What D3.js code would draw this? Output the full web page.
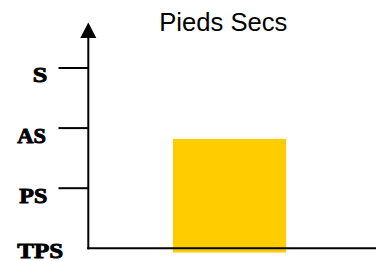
<!DOCTYPE html>
<html>
<head>
<meta charset="utf-8">
<script src="https://cdn.jsdelivr.net/npm/d3@7"></script>
<style>
  html, body { margin: 0; padding: 0; background: #fff; }
  svg { display: block; }
</style>
</head>
<body>
<div id="chart"></div>
<script>
// ---- data ----
const title = "Pieds Secs";
const categories = ["Pieds Secs"];
const barStart = [-0.07];
const barEnd = [1.82];
const levelLabels = ["TPS", "PS", "AS", "S"];
const levelValues = [0, 1, 2, 3];

// ---- layout ----
const W = 383, H = 261;
const axisX = 88.3, axisBottom = 248.3, axisRight = 376;
const svg = d3.select("#chart").append("svg").attr("width", W).attr("height", H);

const y = d3.scaleLinear().domain([0, 3]).range([axisBottom, 68]);
const x = d3.scaleBand().domain(categories).range([axisX, axisRight])
  .paddingInner(0.4354).paddingOuter(0.4354).align(0.485);

// bars
svg.selectAll("rect.bar").data(categories).enter().append("rect")
  .attr("class", "bar")
  .attr("x", d => x(d))
  .attr("width", x.bandwidth())
  .attr("y", (d, i) => y(barEnd[i]))
  .attr("height", (d, i) => y(barStart[i]) - y(barEnd[i]))
  .attr("fill", "#FFCC00");

// y axis line with arrow
svg.append("line").attr("x1", axisX).attr("x2", axisX)
  .attr("y1", 37).attr("y2", axisBottom + 1)
  .attr("stroke", "#000").attr("stroke-width", 2);
svg.append("path")
  .attr("d", `M${axisX},22.5 L${axisX + 8},38 L${axisX - 8},38 Z`)
  .attr("fill", "#000");

// x axis line
svg.append("line").attr("x1", axisX - 1).attr("x2", axisRight)
  .attr("y1", axisBottom).attr("y2", axisBottom)
  .attr("stroke", "#000").attr("stroke-width", 2);

// ticks (skip the bottom one, which is the axis)
svg.selectAll("line.tick").data(levelValues.filter(v => v > 0)).enter().append("line")
  .attr("class", "tick")
  .attr("x1", 58.5).attr("x2", axisX)
  .attr("y1", d => y(d)).attr("y2", d => y(d))
  .attr("stroke", "#000").attr("stroke-width", 2);

// tick labels
const labelX = [17.3, 19.3, 17.3, 32.7];
svg.selectAll("text.lvl").data(levelValues).enter().append("text")
  .attr("class", "lvl")
  .attr("x", (d, i) => labelX[i])
  .attr("y", d => d === 0 ? y(d) + 9.2 : y(d) + 14.4)
  .attr("font-family", "'Liberation Serif', 'DejaVu Serif', serif")
  .attr("font-weight", "bold")
  .attr("font-size", 22)
  .attr("textLength", (d, i) => [46, 28, 28.7, 14.6][i])
  .attr("lengthAdjust", "spacingAndGlyphs")
  .attr("fill", "#000")
  .attr("stroke", "#000")
  .attr("stroke-width", 0.9)
  .text((d, i) => levelLabels[i]);

// title
svg.append("text")
  .attr("x", 223.3).attr("y", 31)
  .attr("text-anchor", "middle")
  .attr("font-family", "'Liberation Sans', Arial, sans-serif")
  .attr("font-size", 25.6)
  .attr("fill", "#000")
  .text(title);
</script>
</body>
</html>
